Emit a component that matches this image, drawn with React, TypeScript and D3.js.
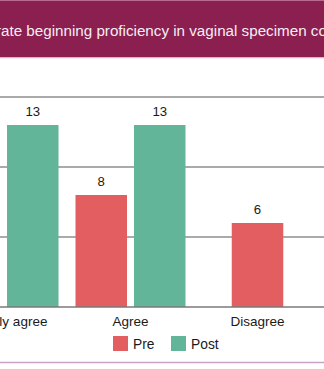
import React, { useEffect, useRef } from "react";
import * as d3 from "d3";

const titleText = "Demonstrate beginning proficiency in vaginal specimen collection";
const titleHiddenPrefix = "Demonstr";
const categories = ["Strongly agree", "Agree", "Disagree"];
const seriesNames = ["Pre", "Post"];
const preValues: (number | null)[] = [0, 8, 6];
const postValues: (number | null)[] = [13, 13, null];
const gridTicks = [5, 10, 15];
const seriesColors = ["#E35E60", "#62B598"];

const W = 324;
const H = 369;
const FONT = "'Liberation Sans', Arial, Helvetica, sans-serif";

export default function App() {
  const ref = useRef<SVGSVGElement | null>(null);

  useEffect(() => {
    const svg = d3.select(ref.current);
    svg.selectAll("*").remove();

    // frame & title band
    svg.append("rect").attr("x", 0).attr("y", 0).attr("width", W).attr("height", H).attr("fill", "#fff");
    svg.append("rect").attr("x", 0).attr("y", 0).attr("width", W).attr("height", 57.5).attr("fill", "#8A1F50");
    svg.append("line").attr("x1", 0).attr("x2", W).attr("y1", 0.5).attr("y2", 0.5).attr("stroke", "#B66A8E").attr("stroke-width", 1);
    svg.append("line").attr("x1", 0).attr("x2", W).attr("y1", 58).attr("y2", 58).attr("stroke", "#F2D8E6").attr("stroke-width", 1);

    const titleSize = 15.2;
    const measure = svg.append("text").attr("font-family", FONT).attr("font-size", titleSize).text(titleHiddenPrefix);
    const prefixW = (measure.node() as SVGTextElement).getComputedTextLength();
    measure.remove();
    svg.append("text")
      .attr("x", 1 - prefixW)
      .attr("y", 36)
      .attr("font-family", FONT)
      .attr("font-size", titleSize)
      .attr("fill", "#F7ECF2")
      .text(titleText);

    const y = d3.scaleLinear().domain([0, 15]).range([307, 97]);

    // gridlines
    svg.append("g").selectAll("line").data(gridTicks).join("line")
      .attr("x1", 0).attr("x2", W)
      .attr("y1", (d) => y(d)).attr("y2", (d) => y(d))
      .attr("stroke", "#8E8E8E").attr("stroke-width", 1.5);

    const x = d3.scaleBand<string>().domain(categories).range([-60, 321]).padding(0);
    const inner = d3.scaleBand<string>().domain(seriesNames).range([-55, 55]).paddingInner(7 / 58.5).paddingOuter(0);
    const bw = inner.bandwidth();

    type Bar = { cat: string; series: string; value: number; cx: number; color: string };
    const bars: Bar[] = [];
    categories.forEach((cat, i) => {
      const vals = [preValues[i], postValues[i]];
      const present = seriesNames.filter((_, s) => vals[s] !== null);
      const center = (x(cat) as number) + x.bandwidth() / 2;
      seriesNames.forEach((s, si) => {
        const v = vals[si];
        if (v === null) return;
        const cx = present.length === 1 ? center : center + (inner(s) as number) + bw / 2;
        bars.push({ cat, series: s, value: v, cx, color: seriesColors[si] });
      });
    });

    svg.append("g").selectAll("rect").data(bars.filter((d) => d.value > 0)).join("rect")
      .attr("x", (d) => d.cx - bw / 2)
      .attr("width", bw)
      .attr("y", (d) => y(d.value))
      .attr("height", (d) => y(0) - y(d.value))
      .attr("fill", (d) => d.color);

    svg.append("g").selectAll("text").data(bars.filter((d) => d.value > 0)).join("text")
      .attr("x", (d) => d.cx)
      .attr("y", (d) => y(d.value) - 9)
      .attr("text-anchor", "middle")
      .attr("font-family", FONT)
      .attr("font-size", 13.2)
      .attr("fill", "#1a1a1a")
      .text((d) => String(d.value));

    // baseline
    svg.append("line").attr("x1", 0).attr("x2", W).attr("y1", y(0)).attr("y2", y(0))
      .attr("stroke", "#7A7A7A").attr("stroke-width", 1.3);

    // category labels
    svg.append("g").selectAll("text").data(categories).join("text")
      .attr("x", (d) => (x(d) as number) + x.bandwidth() / 2)
      .attr("y", 326)
      .attr("text-anchor", "middle")
      .attr("font-family", FONT)
      .attr("font-size", 13.5)
      .attr("fill", "#1a1a1a")
      .text((d) => d);

    // legend
    const legendX = d3.scalePoint<string>().domain(seriesNames).range([113, 171]);
    const lg = svg.append("g").selectAll("g").data(seriesNames).join("g")
      .attr("transform", (d) => `translate(${legendX(d)},336)`);
    lg.append("rect").attr("width", 15).attr("height", 15).attr("fill", (_, i) => seriesColors[i]);
    lg.append("text").attr("x", 20).attr("y", 12.5)
      .attr("font-family", FONT).attr("font-size", 13.8).attr("fill", "#1a1a1a")
      .text((d) => d);

    // bottom frame line
    svg.append("line").attr("x1", 0).attr("x2", W).attr("y1", 362.5).attr("y2", 362.5)
      .attr("stroke", "#C9A3C3").attr("stroke-width", 1.5);
  }, []);

  return (
    <svg
      ref={ref}
      width={W}
      height={H}
      style={{ position: "fixed", left: 0, top: 0, display: "block" }}
    />
  );
}
